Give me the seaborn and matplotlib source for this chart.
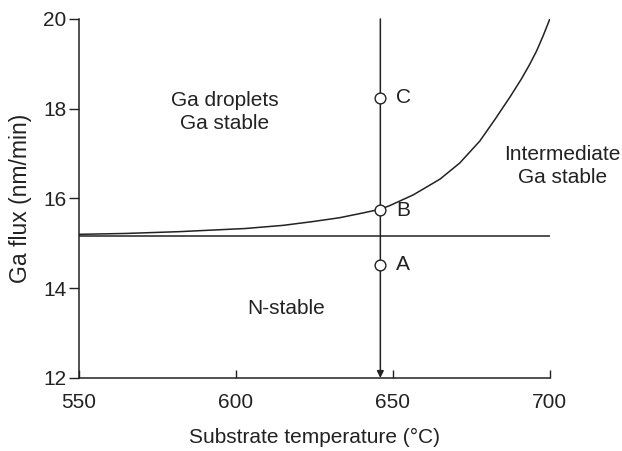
import matplotlib
matplotlib.use("Agg")
import matplotlib.pyplot as plt
import seaborn as sns
import pandas as pd

# Data
curve_temp = [550, 565, 582, 603, 615, 624, 633, 640, 646, 649, 656.5, 665, 671.3, 677.7, 682.5, 687.3, 691, 693.6, 695.8, 697.9, 700]
curve_flux = [15.20, 15.22, 15.26, 15.33, 15.40, 15.48, 15.57, 15.67, 15.76, 15.84, 16.08, 16.43, 16.79, 17.28, 17.76, 18.26, 18.67, 18.99, 19.29, 19.63, 20.0]
boundary_flux = 15.17
probe_temp = 646
point_names = ["A", "B", "C"]
point_temp = [646, 646, 646]
point_flux = [14.52, 15.74, 18.24]
x_ticks = [550, 600, 650, 700]
y_ticks = [12, 14, 16, 18, 20]

sns.set_theme(style="white")
plt.rcParams['font.family'] = ['Liberation Sans', 'DejaVu Sans']

fig = plt.figure(figsize=(6.22, 4.51), dpi=100)
ax = fig.add_axes([0.127, 0.162, 0.757, 0.796])

col = "#222222"
fs = 15
df_curve = pd.DataFrame({"T": curve_temp, "F": curve_flux})
sns.lineplot(data=df_curve, x="T", y="F", ax=ax, color=col, lw=1.1)
ax.axhline(boundary_flux, color=col, lw=1.1)
ax.annotate("", xy=(probe_temp, 12), xytext=(probe_temp, 20),
            arrowprops=dict(arrowstyle="-|>", color=col, lw=1.1, mutation_scale=10, shrinkA=0, shrinkB=0))
df_pts = pd.DataFrame({"T": point_temp, "F": point_flux, "n": point_names})
sns.scatterplot(data=df_pts, x="T", y="F", ax=ax, s=60, facecolor="white", edgecolor=col, linewidth=1.0, zorder=5)
for t, f, n in zip(point_temp, point_flux, point_names):
    ax.text(t + 5, f, n, fontsize=fs, va="center", ha="left", color=col)

ax.text(596.5, 17.92, "Ga droplets\nGa stable", fontsize=fs, ha="center", va="center", color=col, linespacing=1.25)
ax.text(616, 13.54, "N-stable", fontsize=fs, ha="center", va="center", color=col)
ax.text(704, 16.72, "Intermediate\nGa stable", fontsize=fs, ha="center", va="center", color=col, linespacing=1.25)

ax.set_xlim(550, 700)
ax.set_ylim(12, 20)
ax.set_xticks(x_ticks)
ax.set_yticks(y_ticks)
ax.set_xlabel("Substrate temperature (°C)", fontsize=fs, color=col, labelpad=11)
ax.set_ylabel("Ga flux (nm/min)", fontsize=16.5, color=col, labelpad=8)
ax.tick_params(axis="x", direction="in", length=6, width=1.0, colors=col, labelsize=fs, pad=11, bottom=True)
ax.tick_params(axis="y", direction="out", length=7, width=1.0, colors=col, labelsize=fs, pad=2, left=True)
for s in ["top", "right"]:
    ax.spines[s].set_visible(False)
for s in ["left", "bottom"]:
    ax.spines[s].set_color(col)
    ax.spines[s].set_linewidth(1.1)

fig.savefig("out.png", dpi=100)
